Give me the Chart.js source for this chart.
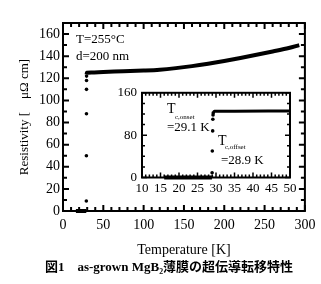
<!DOCTYPE html>
<html>
<head>
<meta charset="utf-8">
<script src="https://cdn.jsdelivr.net/npm/chart.js@4.4.1/dist/chart.umd.min.js"></script>
<style>
  body { margin: 0; background: #fff; }
  #wrap { position: relative; width: 321px; height: 284px; }
  #main { position: absolute; left: 0; top: 0; }
  #inset { position: absolute; left: 100px; top: 80px; }
</style>
</head>
<body>
<div id="wrap">
  <canvas id="main" width="321" height="284"></canvas>
  <canvas id="inset" width="210" height="125"></canvas>
</div>
<script>
// superconducting state, resistivity ~ 0
const zeroT = [16.0, 20.0, 25.0, 28.9];
const zeroR = [0, 0, 0, 0];
// measured points inside the transition
const stepT = [28.95, 29.0, 29.1, 29.15, 29.2, 29.25];
const stepR = [9, 50, 88, 110, 118, 122];
// normal state curve
const normT = [29.3, 29.6, 35, 50, 75, 100, 120, 140, 160, 180, 200, 220, 240, 260, 280, 293];
const normR = [123.5, 125.0, 125.3, 125.8, 126.3, 127.0, 127.8, 129.2, 131.0, 133.2, 135.7, 138.4, 141.3, 144.3, 147.4, 150.0];

// tick labels
const xTicks = [0, 50, 100, 150, 200, 250, 300];
const yTicks = [0, 20, 40, 60, 80, 100, 120, 140, 160];
const insetXTicks = [10, 15, 20, 25, 30, 35, 40, 45, 50];
const insetYTicks = [0, 80, 160];

const caption = '図1　as-grown MgB₂薄膜の超伝導転移特性';

Chart.defaults.font.family = '"Liberation Serif", "DejaVu Serif", serif';
Chart.defaults.color = '#000';

const pts = (xs, ys) => xs.map((t, i) => ({x: t, y: ys[i]}));

function makeSets(lw, zw, clip) {
  return [
    { data: pts(zeroT, zeroR), showLine: true, borderColor: '#000', borderWidth: zw,
      pointRadius: 0, clip: clip },
    { data: pts(stepT, stepR), showLine: false, backgroundColor: '#000', borderColor: '#000',
      pointRadius: 1.8, borderWidth: 0, clip: clip },
    { data: pts(normT, normR), showLine: true, borderColor: '#000', borderWidth: lw,
      pointRadius: 0, cubicInterpolationMode: 'monotone', clip: clip }
  ];
}

function range(a, b, step) {
  const out = [];
  for (let v = a; v <= b + 1e-9; v += step) out.push(v);
  return out;
}

// frame with inward ticks on all four sides
function frameTicks(o) {
  return {
    id: 'frameTicks',
    beforeDatasetsDraw(chart) {
      const {ctx, chartArea: a, scales: {x, y}} = chart;
      ctx.save();
      ctx.strokeStyle = '#000';
      ctx.lineWidth = o.frame;
      ctx.strokeRect(a.left, a.top, a.right - a.left, a.bottom - a.top);
      ctx.lineWidth = o.tickWidth;
      ctx.beginPath();
      o.xMinor.forEach(v => {
        const px = x.getPixelForValue(v);
        const len = o.xMajor.includes(v) ? o.majorLen : o.minorLen;
        ctx.moveTo(px, a.bottom); ctx.lineTo(px, a.bottom - len);
        ctx.moveTo(px, a.top); ctx.lineTo(px, a.top + len);
      });
      o.yMinor.forEach(v => {
        const py = y.getPixelForValue(v);
        const len = o.yMajor.includes(v) ? o.majorLen : o.minorLen;
        ctx.moveTo(a.left, py); ctx.lineTo(a.left + len, py);
        ctx.moveTo(a.right, py); ctx.lineTo(a.right - len, py);
      });
      ctx.stroke();
      ctx.restore();
    },
    afterDraw(chart) {
      if (o.extra) o.extra(chart.ctx);
    }
  };
}

const serif = '"Liberation Serif", "DejaVu Serif", serif';

new Chart(document.getElementById('main'), {
  type: 'scatter',
  data: { datasets: makeSets(4, 4, 4) },
  options: {
    responsive: false,
    animation: false,
    layout: { padding: { left: 0, top: 23, right: 14, bottom: 0 } },
    plugins: { legend: { display: false }, tooltip: { enabled: false } },
    scales: {
      x: {
        type: 'linear', min: 0, max: 300,
        afterBuildTicks: s => { s.ticks = xTicks.map(v => ({value: v})); },
        afterFit: s => { s.height = 73; },
        grid: { display: false, drawTicks: false },
        border: { display: false },
        ticks: { font: { size: 14 }, padding: 5.6, maxRotation: 0, autoSkip: false },
        title: { display: true, text: 'Temperature [K]', font: { size: 14 },
                 padding: { top: 0, bottom: 25.6 } }
      },
      y: {
        type: 'linear', min: 0, max: 170,
        afterBuildTicks: s => { s.ticks = yTicks.map(v => ({value: v})); },
        afterFit: s => { s.width = 63; },
        grid: { display: false, drawTicks: false },
        border: { display: false },
        ticks: { font: { size: 14 }, padding: 3, autoSkip: false },
        title: { display: true, text: 'Resistivity [    μΩ cm]', font: { size: 13 },
                 padding: { top: 17, bottom: 0 } }
      }
    }
  },
  plugins: [frameTicks({
    frame: 2, tickWidth: 2, majorLen: 6, minorLen: 4,
    xMinor: range(0, 300, 10), xMajor: xTicks,
    yMinor: range(0, 170, 10), yMajor: yTicks,
    extra(ctx) {
      ctx.save();
      ctx.fillStyle = '#000';
      ctx.textBaseline = 'middle';
      ctx.textAlign = 'left';
      ctx.font = '13px ' + serif;
      ctx.fillText('T=255°C', 76, 40);
      ctx.fillText('d=200 nm', 76, 57);
      ctx.textAlign = 'center';
      ctx.font = 'bold 13px "Liberation Serif", "Noto Sans CJK JP", serif';
      ctx.fillText(caption, 169, 268);
      ctx.restore();
    }
  })]
});

new Chart(document.getElementById('inset'), {
  type: 'scatter',
  data: { datasets: makeSets(3, 4, { left: 0, top: 0, right: 1, bottom: 4 }) },
  options: {
    responsive: false,
    animation: false,
    layout: { padding: { left: 0, top: 12.3, right: 20, bottom: 0 } },
    plugins: { legend: { display: false }, tooltip: { enabled: false } },
    scales: {
      x: {
        type: 'linear', min: 10, max: 50,
        afterBuildTicks: s => { s.ticks = insetXTicks.map(v => ({value: v})); },
        afterFit: s => { s.height = 27.5; },
        grid: { display: false, drawTicks: false },
        border: { display: false },
        ticks: { font: { size: 13 }, padding: 3, maxRotation: 0, autoSkip: false }
      },
      y: {
        type: 'linear', min: 0, max: 160,
        afterBuildTicks: s => { s.ticks = insetYTicks.map(v => ({value: v})); },
        afterFit: s => { s.width = 42; },
        grid: { display: false, drawTicks: false },
        border: { display: false },
        ticks: { font: { size: 13 }, padding: 5, autoSkip: false }
      }
    }
  },
  plugins: [frameTicks({
    frame: 2, tickWidth: 1.5, majorLen: 5, minorLen: 3,
    xMinor: range(10, 50, 1), xMajor: insetXTicks,
    yMinor: range(0, 160, 20), yMajor: insetYTicks,
    extra(ctx) {
      ctx.save();
      ctx.fillStyle = '#000';
      ctx.textBaseline = 'middle';
      ctx.textAlign = 'left';
      ctx.font = '14px ' + serif;
      ctx.fillText('T', 67, 29);
      ctx.fillText('T', 118, 61);
      ctx.font = '7px ' + serif;
      ctx.fillText('c,onset', 75, 37);
      ctx.fillText('c,offset', 125, 67);
      ctx.font = '13px ' + serif;
      ctx.fillText('=29.1 K', 67, 48);
      ctx.fillText('=28.9 K', 121, 81);
      ctx.restore();
    }
  })]
});
</script>
</body>
</html>
